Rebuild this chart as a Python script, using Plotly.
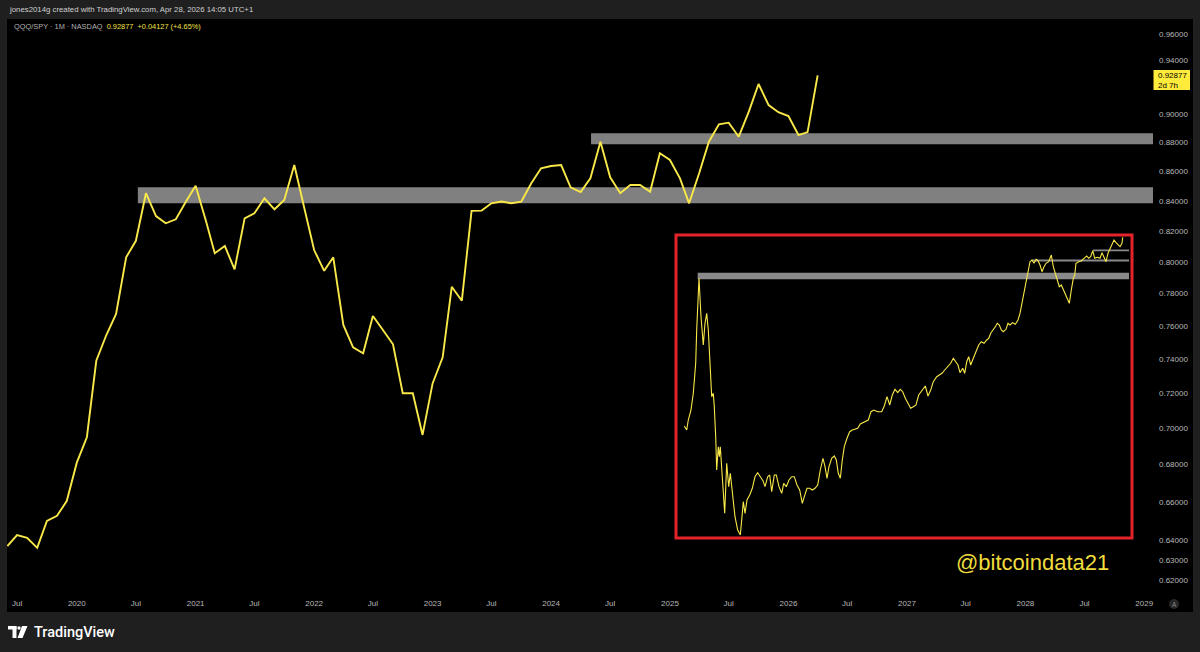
import math
import pandas as pd
import plotly.graph_objects as go

# ---------------- data ----------------
months = pd.date_range("2019-06-01", "2026-04-01", freq="MS")
ratio = [
    0.6371, 0.6427, 0.6413, 0.6362, 0.6501, 0.6527, 0.6605,
    0.6811, 0.6951, 0.7390, 0.7544, 0.7672, 0.8028, 0.8135, 0.8451, 0.8298, 0.8250, 0.8276, 0.8390,
    0.8502, 0.8271, 0.8054, 0.8101, 0.7951, 0.8283, 0.8316, 0.8417, 0.8343, 0.8405, 0.8644, 0.8358,
    0.8075, 0.7942, 0.8028, 0.7605, 0.7470, 0.7434, 0.7660, 0.7574, 0.7488, 0.7200, 0.7200, 0.6964,
    0.7257, 0.7410, 0.7841, 0.7754, 0.8332, 0.8334, 0.8383, 0.8395, 0.8383, 0.8394, 0.8518, 0.8621,
    0.8637, 0.8644, 0.8491, 0.8459, 0.8552, 0.8807, 0.8559, 0.8451, 0.8507, 0.8507, 0.8461, 0.8726,
    0.8679, 0.8552, 0.8383, 0.8587, 0.8807, 0.8930, 0.8942, 0.8842, 0.9021, 0.9223, 0.9069, 0.9017,
    0.8989, 0.8854, 0.8875, 0.92877,
]

band_start = ["2020-07-07", "2024-05-03"]
band_end = ["2030-06-01", "2030-06-01"]
band_low = [0.8383, 0.8788]
band_high = [0.8491, 0.8866]

y_tick_vals = [0.62, 0.63, 0.64, 0.66, 0.68, 0.70, 0.72, 0.74, 0.76, 0.78,
               0.80, 0.82, 0.84, 0.86, 0.88, 0.90, 0.94, 0.96]
x_tick_vals = ["2019-07-01", "2020-01-01", "2020-07-01", "2021-01-01", "2021-07-01",
               "2022-01-01", "2022-07-01", "2023-01-01", "2023-07-01", "2024-01-01",
               "2024-07-01", "2025-01-01", "2025-07-01", "2026-01-01", "2026-07-01",
               "2027-01-01", "2027-07-01", "2028-01-01", "2028-07-01", "2029-01-01"]
x_tick_text = ["Jul", "2020", "Jul", "2021", "Jul", "2022", "Jul", "2023", "Jul", "2024",
               "Jul", "2025", "Jul", "2026", "Jul", "2027", "Jul", "2028", "Jul", "2029"]

# inset chart (relative time index, relative level)
inset_t = [8.3, 10.7, 12.3, 15, 17.3, 19.7, 20.7, 23, 25, 27.3, 29, 30.7, 32.3, 34, 35.7, 37.3,
           38.3, 39.7, 40.7, 42.3, 43.3, 44.3, 46.7, 48.7, 50.7, 52.7, 54.3, 56.3, 59, 61.7, 64.3,
           65.7, 67.3, 69, 71, 73.7, 76.3, 79, 81.7, 84.3, 87, 89, 91.7, 93.7, 95.7, 98.3, 100.3,
           103, 105.7, 107.7, 110.3, 113, 115.7, 118.3, 121, 123.7, 126.3, 128.3, 131, 133.7,
           136.3, 139, 141.7, 144.3, 147, 149, 151, 153, 155.7, 158.3, 160.3, 162.3, 164.3, 166.3,
           168.3, 171, 173.7, 176.3, 179, 181.7, 184.3, 187, 189.7, 192.3, 195, 197.7, 201.7,
           205.7, 208.3, 211, 213.7, 216.3, 219, 221.7, 224.3, 226.7, 229.3, 232, 234.7, 237.3,
           240, 242.7, 245.3, 249.3, 252, 254.7, 257.3, 260.7, 263.3, 266, 268.7, 271.3, 274.7,
           277.3, 280, 282, 284, 286.7, 288.7, 290.7, 292.7, 294.7, 297.3, 300, 302.7, 305.3, 308,
           310.7, 312.7, 314.7, 317.3, 319.3, 321.3, 323.3, 325.3, 327.3, 330, 332, 334, 336.7,
           339.3, 342, 344, 346, 348, 350, 352, 354, 356, 358, 360, 362, 364, 366, 368, 370, 372.7,
           375.3, 377.3, 379.3, 381.3, 383.3, 385.3, 387.3, 389.3, 391.3, 393.3, 395.3, 397.3,
           398.7, 400, 402.7, 405.3, 408, 410.7, 412.7, 414.7, 416.7, 418.7, 421.3, 424, 426, 428,
           430, 432, 434, 436, 438, 440, 442, 444, 446, 446.7]
inset_v = [112, 108, 118, 128, 144.7, 174.7, 208, 259.7, 221.3, 193, 214.7, 224.7, 208, 174.7,
           141.3, 144.7, 131.3, 101.3, 68, 91.3, 81.3, 91.3, 54.7, 24.7, 74.7, 51.3, 64.7, 44.7,
           21.3, 8, 3, 18, 36.3, 24.7, 38, 43, 49.7, 61.3, 65.3, 61.3, 57.3, 51.3, 61.3, 63, 46.3,
           63, 63, 51.3, 44.7, 54.7, 51.3, 58, 61.3, 61.3, 53, 48, 34.7, 41.3, 49.7, 49.7, 48,
           49.7, 53, 68, 79.7, 71.3, 59.7, 71.3, 79.7, 82, 78, 64.7, 59.7, 78, 91.3, 99.7, 106.3,
           108, 108.7, 109.7, 114, 115.3, 116.3, 118, 126.3, 128, 126.3, 126.3, 132, 141.3, 133,
           143, 148.7, 145.3, 148.7, 146.3, 139.7, 134.7, 129.7, 131.3, 133, 143, 146.3, 152,
           142, 148, 156.3, 161.3, 163, 164.7, 168, 171.3, 174.7, 179.7, 176.3, 173, 165.3,
           169.7, 164.7, 176.3, 181.3, 173, 179.7, 186.3, 193, 196.3, 194.7, 198, 199.7, 204.7,
           208, 211.3, 214.7, 213, 208, 206.3, 208.7, 214.7, 213, 215.3, 213.7, 218, 224.7,
           234.7, 248, 258, 266.3, 276.3, 278, 274.7, 278.7, 277.3, 273, 266.3, 271.3, 274.7,
           276.3, 283, 271.3, 264.7, 258, 251.3, 253, 248, 243, 239.7, 234.7, 248, 259.7, 263,
           274.7, 276.3, 277, 279.7, 282, 279.7, 281.3, 287.3, 279.7, 280.7, 279.7, 285.3, 279.7,
           276.3, 284.7, 289.7, 293, 298, 295.3, 293, 291.3, 294.7, 300.7]

inset_band_start = [21.7, 355.7, 417]
inset_band_low = [258.7, 276.6, 286.8]
inset_band_high = [265.3, 278.4, 288.6]

# ---------------- layout geometry ----------------
W, H = 1200, 652
L, R, T, B = 7, 1153, 20, 593


def px(x):
    return (x - L) / (R - L)


def py(y):
    return (B - y) / (B - T)


YELLOW = "#f8e848"
AXIS_TXT = "#b8b8b8"
FONT = "Liberation Sans"

fig = go.Figure()
fig.add_trace(go.Scatter(x=months, y=ratio, mode="lines",
                         line=dict(color=YELLOW, width=1.9), hoverinfo="skip"))
fig.add_trace(go.Scatter(x=inset_t, y=inset_v, mode="lines", xaxis="x2", yaxis="y2",
                         line=dict(color=YELLOW, width=1.1), hoverinfo="skip"))

shapes = []
shapes.append(dict(type="rect", xref="paper", yref="paper", x0=px(7), x1=px(1193),
                   y0=py(612), y1=py(19), fillcolor="#000000", line=dict(width=0), layer="below"))
for s, e, lo, hi in zip(band_start, band_end, band_low, band_high):
    shapes.append(dict(type="rect", xref="x", yref="y", x0=s, x1=e, y0=lo, y1=hi,
                       fillcolor="#808080", line=dict(width=0), layer="below"))
for s, lo, hi in zip(inset_band_start, inset_band_low, inset_band_high):
    shapes.append(dict(type="rect", xref="x2", yref="y2", x0=s, x1=453, y0=lo, y1=hi,
                       fillcolor="#8a8a8a", line=dict(width=0), layer="below"))
shapes.append(dict(type="rect", xref="x2 domain", yref="y2 domain", x0=0, x1=1, y0=0, y1=1,
                   line=dict(color="#e3242b", width=3), fillcolor="rgba(0,0,0,0)"))
shapes.append(dict(type="rect", xref="paper", yref="paper", x0=px(1153.5), x1=px(1190),
                   y0=py(90), y1=py(70), fillcolor="#ffeb3b", line=dict(width=0)))
shapes.append(dict(type="circle", xref="paper", yref="paper", x0=px(1169), x1=px(1179),
                   y0=py(609), y1=py(599), fillcolor="#262626", line=dict(width=0)))
# TradingView logo (approximate)
shapes.append(dict(type="rect", xref="paper", yref="paper", x0=px(8), x1=px(16.5),
                   y0=py(629.5), y1=py(626), fillcolor="#ffffff", line=dict(width=0)))
shapes.append(dict(type="rect", xref="paper", yref="paper", x0=px(12.5), x1=px(16.5),
                   y0=py(638), y1=py(626), fillcolor="#ffffff", line=dict(width=0)))
shapes.append(dict(type="circle", xref="paper", yref="paper", x0=px(17.3), x1=px(20.7),
                   y0=py(629.7), y1=py(626.3), fillcolor="#ffffff", line=dict(width=0)))
shapes.append(dict(type="path", xref="paper", yref="paper",
                   path=f"M {px(22)} {py(626)} L {px(27.5)} {py(626)} L {px(22.5)} {py(638)} L {px(17.5)} {py(638)} Z",
                   fillcolor="#ffffff", line=dict(width=0)))

annotations = [
    dict(x=px(7), y=py(9.5), xref="paper", yref="paper", xanchor="left", yanchor="middle",
         text="jones2014g created with TradingView.com, Apr 28, 2026 14:05 UTC+1",
         showarrow=False, font=dict(family=FONT, size=7.8, color="#d0d0d0")),
    dict(x=px(12), y=py(27), xref="paper", yref="paper", xanchor="left", yanchor="middle",
         text="QQQ/SPY · 1M · NASDAQ  <span style='color:#f2e04a'>0.92877  +0.04127 (+4.65%)</span>",
         showarrow=False, font=dict(family=FONT, size=7.4, color="#b0b0b0")),
    dict(x=px(1156), y=py(80), xref="paper", yref="paper", xanchor="left", yanchor="middle",
         text="0.92877<br>2d 7h", showarrow=False, align="left",
         font=dict(family=FONT, size=8, color="#000000")),
    dict(x=px(1174), y=py(604), xref="paper", yref="paper", xanchor="center", yanchor="middle",
         text="A", showarrow=False, font=dict(family=FONT, size=6.5, color="#8a8a8a")),
    dict(x=px(1032), y=py(562), xref="paper", yref="paper", xanchor="center", yanchor="middle",
         text="@bitcoindata21", showarrow=False,
         font=dict(family=FONT, size=22, color="#f0dc3c")),
    dict(x=px(32), y=py(632), xref="paper", yref="paper", xanchor="left", yanchor="middle",
         text="TradingView", showarrow=False,
         font=dict(family="Roboto", size=14.5, color="#ffffff", weight=500)),
]

fig.update_layout(
    width=W, height=H,
    margin=dict(l=L, r=W - R, t=T, b=H - B, pad=0),
    paper_bgcolor="#1f1f1f", plot_bgcolor="#000000",
    showlegend=False, hovermode=False,
    shapes=shapes, annotations=annotations,
    xaxis=dict(type="date", range=["2019-05-31", "2029-01-28"], domain=[0, 1],
               tickvals=x_tick_vals, ticktext=x_tick_text, showgrid=False, zeroline=False,
               showline=False, ticks="", ticklabelstandoff=4,
               tickfont=dict(family=FONT, size=8, color=AXIS_TXT)),
    yaxis=dict(type="log", range=[math.log10(0.6136), math.log10(0.97082)], domain=[0, 1],
               side="right", tickvals=y_tick_vals, tickformat=".5f", showgrid=False,
               zeroline=False, showline=False, ticks="", ticklabelstandoff=5,
               tickfont=dict(family=FONT, size=8, color=AXIS_TXT)),
    xaxis2=dict(range=[0, 456], domain=[px(676), px(1132)], anchor="y2", visible=False),
    yaxis2=dict(range=[0, 303], domain=[py(538), py(235)], anchor="x2", visible=False),
)

fig.write_html("out.html", config={"displayModeBar": False},
               post_script="document.body.style.margin='0';document.body.style.overflow='hidden';")
